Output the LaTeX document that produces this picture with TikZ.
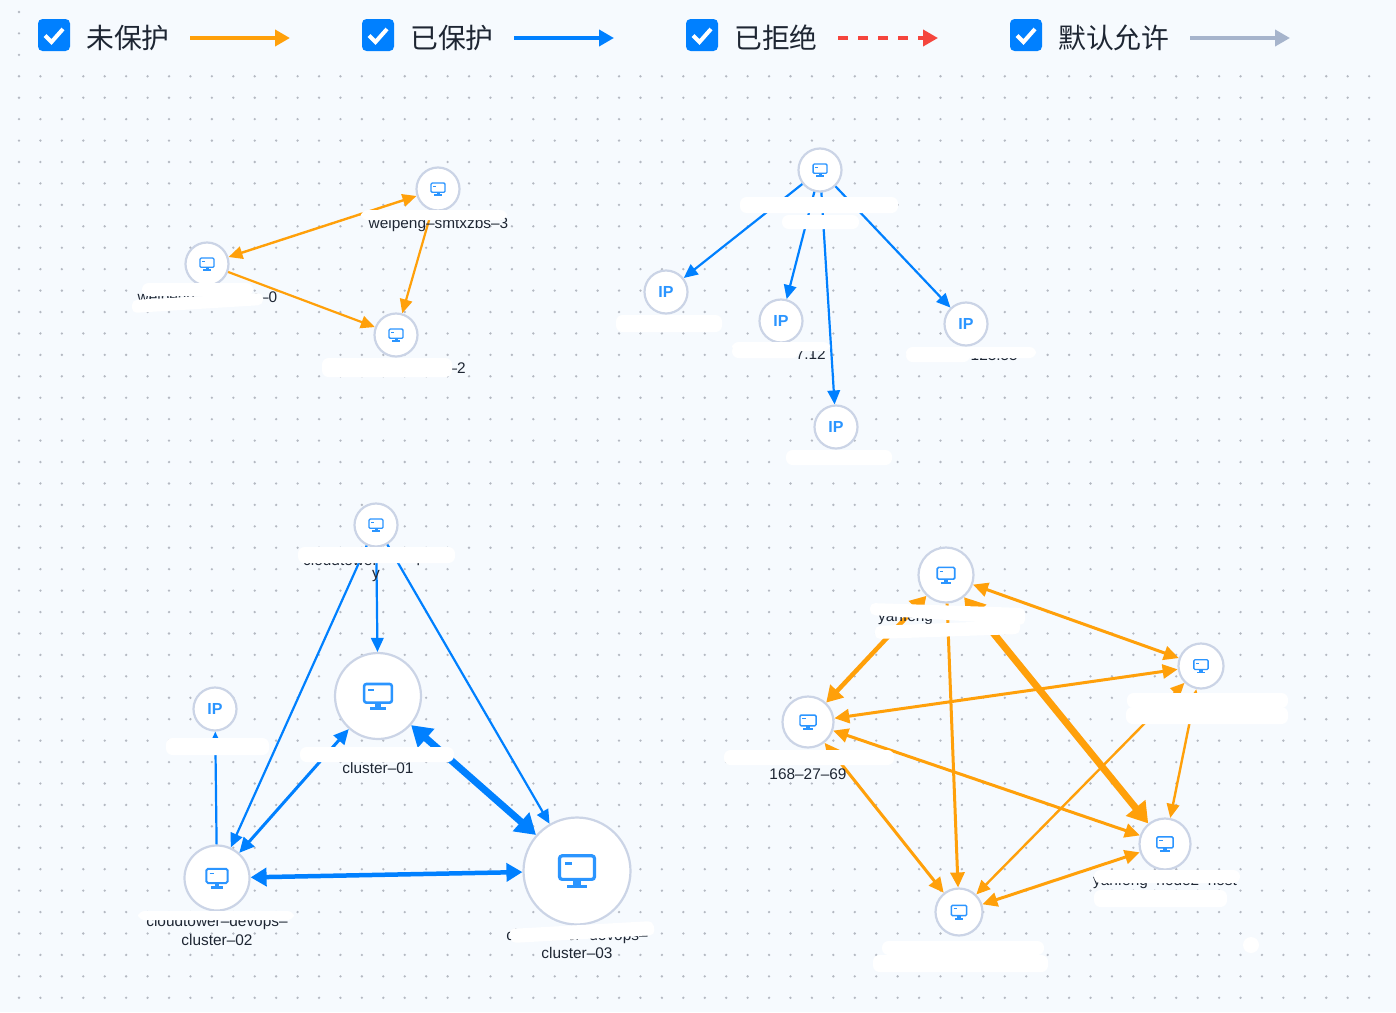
\documentclass[tikz,border=0pt]{standalone}
\usepackage{fontspec}
\setmainfont{Liberation Sans}
\newfontfamily\cjk{Noto Sans CJK SC}
\usetikzlibrary{arrows.meta}
\definecolor{bgc}{HTML}{F6FAFE}
\definecolor{dotc}{HTML}{B4B9C2}
\definecolor{oc}{HTML}{FFA00A}
\definecolor{bc}{HTML}{0080FF}
\definecolor{rc}{HTML}{F5453D}
\definecolor{gc}{HTML}{A6B4CC}
\definecolor{ringc}{HTML}{CBD4E6}
\definecolor{txt}{HTML}{1E2633}
\definecolor{icon}{HTML}{2B95FF}
\newcommand\fs[1]{\fontsize{#1}{#1}\selectfont}
\newcommand\moni[2]{\begin{scope}[shift={(#1)},x=#2pt,y=-#2pt]
  \draw[icon,line width=0.085*#2 pt,rounded corners=0.07*#2 pt] (-0.46,-0.40) rectangle (0.46,0.22);
  \draw[icon,line width=0.07*#2 pt] (-0.32,-0.19) -- (-0.14,-0.19);
  \fill[icon] (-0.1,0.22) rectangle (0.1,0.38);
  \fill[icon] (-0.27,0.36) rectangle (0.27,0.46);
\end{scope}}
\newcommand\blob[4]{\fill[white,rounded corners=6.5pt] (#1,#2) rectangle (#3,#4);}
\newcommand\pblob[4]{\fill[white,rounded corners=5pt] (#1) -- (#2) -- (#3) -- (#4) -- cycle;}
\newcommand\chk[2]{\begin{scope}[shift={(#1,#2)}]
  \fill[bc,rounded corners=4.5pt] (0,0) rectangle (32,32);
  \draw[white,line width=4pt,line join=miter] (7,16.5) -- (13.5,23) -- (25,10);
\end{scope}}
\tikzset{
  x=1pt,y=-1pt,
  vm/.style={circle,draw=ringc,fill=white,line width=2.2pt,inner sep=0pt,minimum size=#1},
  ipn/.style={vm=#1,text=icon,font=\fs{16}\bfseries},
  lab/.style={inner sep=0pt,text=txt,font=\fs{15.4}},
  leg/.style={inner sep=0pt,text=txt,font=\cjk\fs{27.8},anchor=west},
  lg/.style={line width=4pt,-{Triangle[length=15pt,width=16pt]}},
  e1/.style={line width=2.4pt,{Triangle[length=14pt,width=12.5pt]}-{Triangle[length=14pt,width=12.5pt]}},
  e2/.style={line width=3pt,{Triangle[length=15pt,width=14pt]}-{Triangle[length=15pt,width=14pt]}},
  e3/.style={line width=4.5pt,{Triangle[length=16pt,width=18pt]}-{Triangle[length=16pt,width=18pt]}},
  e4/.style={line width=7pt,{Triangle[length=20pt,width=24pt]}-{Triangle[length=20pt,width=24pt]}},
  o1/.style={line width=2.2pt,-{Triangle[length=14pt,width=12.5pt]}},
  o2/.style={line width=3pt,-{Triangle[length=15pt,width=14pt]}},
}
\begin{document}
\begin{tikzpicture}
\useasboundingbox (0,0) rectangle (1396,1012);
\fill[bgc] (0,0) rectangle (1396,1012);
% dot grid
\foreach \j in {3,...,46}{\foreach \i in {0,...,63}{
  \fill[dotc] ({19+21.43*\i},{12+21.43*\j}) circle (1.3pt);}}
\foreach \j in {0,1,2}{\fill[dotc] (19,{12+21.43*\j}) circle (1.3pt);}

% legend
\chk{38}{19}\chk{362}{19}\chk{686}{19}\chk{1010}{19}
\node[leg] (l1) at (86,38) {未保护};
\node[leg] (l2) at (410,38) {已保护};
\node[leg] (l3) at (734,38) {已拒绝};
\node[leg] (l4) at (1058,38) {默认允许};
\coordinate (a1) at (190,38); \coordinate (b1) at (290,38);
\coordinate (a2) at (514,38); \coordinate (b2) at (614,38);
\coordinate (a3) at (838,38); \coordinate (b3) at (938,38);
\coordinate (a4) at (1190,38); \coordinate (b4) at (1290,38);
\draw[lg,oc] (a1) -- (b1);
\draw[lg,bc] (a2) -- (b2);
\draw[lg,rc,dash pattern=on 10pt off 10pt] (a3) -- (b3);
\draw[lg,gc] (a4) -- (b4);

% nodes
\node[vm=43pt] (A) at (438,189) {};
\node[vm=43pt] (B) at (207,264) {};
\node[vm=43pt] (C) at (396,335) {};
\node[vm=43pt] (R) at (820,170) {};
\node[ipn=43pt] (I1) at (666,292) {IP};
\node[ipn=43pt] (I2) at (781,321) {IP};
\node[ipn=43pt] (I3) at (966,324) {IP};
\node[ipn=43pt] (I4) at (836,427) {IP};
\node[vm=43pt] (T) at (376,525) {};
\node[vm=86pt] (K1) at (378,696) {};
\node[ipn=43pt] (I5) at (215,709) {IP};
\node[vm=65pt] (K2) at (217,878) {};
\node[vm=107pt] (K3) at (577,871) {};
\node[vm=55pt] (Y1) at (946,575) {};
\node[vm=45pt] (Y2) at (1201,666) {};
\node[vm=51pt] (Y3) at (808,722) {};
\node[vm=51pt] (Y4) at (1165,844) {};
\node[vm=47pt] (Y5) at (959,912) {};

% connectors
\draw[e1,oc] (A) -- (B);
\draw[o1,oc] (A) -- (C);
\draw[o1,oc] (B) -- (C);
\draw[o1,bc] (R) -- (I1);
\draw[o1,bc] (R) -- (I2);
\draw[o1,bc] (R) -- (I3);
\draw[o1,bc] (R) -- (I4);
\draw[o1,bc] (T) -- (K1);
\draw[o1,bc] (T) -- (K2);
\draw[o1,bc] (T) -- (K3);
\draw[o1,bc] (K2) -- (I5);
\draw[e2,bc] (K1) -- (K2);
\draw[e4,bc] (K1) -- (K3);
\draw[e3,bc] (K2) -- (K3);
\draw[e2,oc] (Y1) -- (Y2);
\draw[e2,oc] (Y2) -- (Y3);
\draw[e3,oc] (Y1) -- (Y3);
\draw[e4,oc] (Y1) -- (Y4);
\draw[o2,oc] (Y1) -- (Y5);
\draw[e2,oc] (Y3) -- (Y4);
\draw[e2,oc] (Y3) -- (Y5);
\draw[e1,oc] (Y2) -- (Y5);
\draw[e1,oc] (Y2) -- (Y4);
\draw[e2,oc] (Y4) -- (Y5);

% icons
\moni{A}{15}\moni{B}{15}\moni{C}{15}\moni{R}{15}\moni{T}{15}
\moni{K1}{30}\moni{K2}{23}\moni{K3}{38}
\moni{Y1}{19}\moni{Y2}{15.5}\moni{Y3}{17.4}\moni{Y4}{17.8}\moni{Y5}{16.6}

% labels
\node[lab] (ta) at (438.5,224.5) {weipeng–smtxzbs–3};
\node[lab] (tb) at (207.5,298.5) {weipeng–smtxzbs–0};
\node[lab] (tc) at (396,369.5) {weipeng–smtxzbs–2};
\node[lab,anchor=east] (ti2) at (826,354.5) {7.12};
\node[lab,anchor=east] (ti3) at (1018,355.5) {123.55};
\node[lab,anchor=west] (tt1) at (303,559.5) {cloudtower–};
\node[lab] (tt3) at (421,559.5) {p};
\node[lab] (tt2) at (376,576) {y};
\node[lab] (tk1) at (378,767.5) {cluster–01};
\node[lab] (tk2a) at (217,922.5) {cloudtower–devops–};
\node[lab] (tk2) at (217,939.5) {cluster–02};
\node[lab] (tk3a) at (577,936.5) {cloudtower–devops–};
\node[lab] (tk3) at (577,952.5) {cluster–03};
\node[lab,anchor=west] (ty1) at (878,618) {yanfeng};
\node[lab] (ty3) at (808,774.5) {168–27–69};
\node[lab] (ty4) at (1165,881.5) {yanfeng–node2–host};

% white blots
\blob{361}{210}{507}{220}
\blob{142}{283}{253}{296}\pblob{132,300}{263,293}{263,305}{132,313}
\blob{322}{358}{452}{377}
\blob{740}{197}{898}{213}\blob{782}{215}{859}{229}
\blob{616}{315}{722}{332}
\blob{732}{342}{830}{351}\blob{732}{345}{799}{358}
\blob{906}{347}{1036}{358}\blob{906}{350}{970}{362}
\blob{786}{450}{892}{465}
\blob{298}{547}{455}{563}
\blob{166}{738}{269}{755}
\blob{300}{747}{454}{762}
\blob{138}{911}{294}{920}
\pblob{509,929}{653,921}{655,935}{511,943}
\pblob{870,603}{1025,608}{1025,625}{870,615}\pblob{875,626}{1020,620}{1020,634}{875,639}
\blob{1127}{693}{1288}{708}\blob{1126}{707}{1288}{724}
\blob{724}{750}{894}{765}
\blob{1094}{870}{1240}{883}\blob{1094}{890}{1227}{907}
\blob{882}{941}{1044}{955}\blob{873}{955}{1048}{972}
\fill[white] (1251,945) circle (8pt);
\end{tikzpicture}
\end{document}
